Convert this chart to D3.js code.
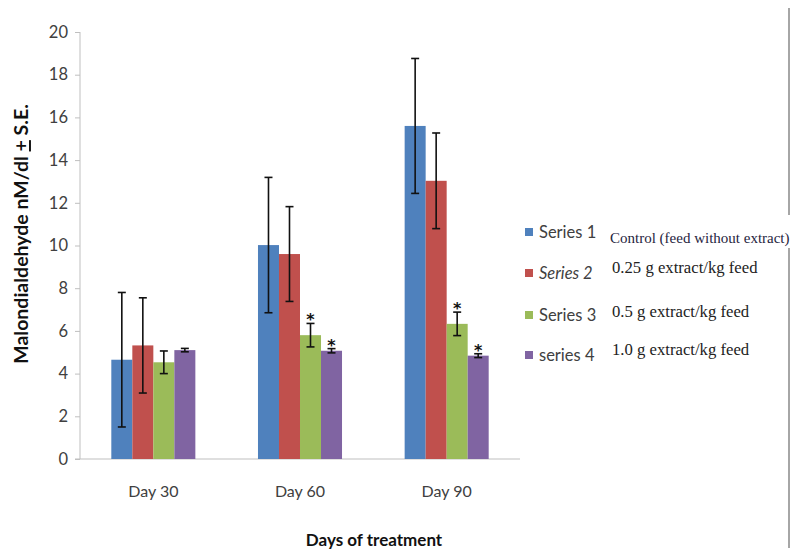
<!DOCTYPE html>
<html>
<head>
<meta charset="utf-8">
<script src="https://cdn.jsdelivr.net/npm/d3@7"></script>
<style>
  body { margin: 0; background: #fff; }
  svg { display: block; }
</style>
</head>
<body>
<svg id="chart"></svg>
<script>
// chart data
const categories = ['Day 30', 'Day 60', 'Day 90'];
const seriesNames = ['Series 1', 'Series 2', 'Series 3', 'series 4'];
const treatments = ['Control (feed without extract)', '0.25 g extract/kg feed', '0.5 g extract/kg feed', '1.0 g extract/kg feed'];
const series1 = [4.65, 10.02, 15.6];
const series2 = [5.32, 9.6, 13.03];
const series3 = [4.53, 5.8, 6.33];
const series4 = [5.1, 5.07, 4.84];
const se1 = [3.15, 3.17, 3.16];
const se2 = [2.23, 2.22, 2.24];
const se3 = [0.53, 0.55, 0.55];
const se4 = [0.08, 0.1, 0.09];
const stars3 = [false, true, true];
const stars4 = [false, true, true];
const yTicks = [0, 2, 4, 6, 8, 10, 12, 14, 16, 18, 20];

const colors = ['#4F81BD', '#C0504D', '#9BBB59', '#8064A2'];
const allValues = [series1, series2, series3, series4];
const allSE = [se1, se2, se3, se4];
const allStars = [null, null, stars3, stars4];

const width = 791, height = 550;
const plotLeft = 80, plotRight = 520, plotTop = 32, plotBottom = 459;

const svg = d3.select('#chart')
    .attr('width', width)
    .attr('height', height);

const x = d3.scaleBand()
    .domain(categories)
    .range([plotLeft, plotRight])
    .paddingInner(0.427)
    .paddingOuter(0.2135);

const xs = d3.scaleBand()
    .domain(seriesNames)
    .range([0, x.bandwidth()]);

const y = d3.scaleLinear()
    .domain([0, 20])
    .range([plotBottom, plotTop]);

// y axis
const yAxis = svg.append('g')
    .attr('transform', `translate(${plotLeft},0)`)
    .call(d3.axisLeft(y).tickValues(yTicks).tickSize(5).tickPadding(7));
yAxis.selectAll('line').attr('stroke', '#bfbfbf');
yAxis.select('.domain').attr('stroke', '#bfbfbf').attr('d', `M0,${plotTop}V${plotBottom}`);
yAxis.selectAll('text')
    .attr('font-family', 'Lato, sans-serif')
    .attr('font-size', 16.5)
    .attr('fill', '#404040');

// x axis
const xAxis = svg.append('g')
    .attr('transform', `translate(0,${plotBottom})`)
    .call(d3.axisBottom(x).tickSize(0).tickPadding(27));
xAxis.select('.domain').attr('stroke', '#bfbfbf').attr('d', `M${plotLeft - 5},0H${plotRight}`);
xAxis.selectAll('text')
    .attr('font-family', 'Lato, sans-serif')
    .attr('font-size', 16)
    .attr('fill', '#404040');

// bars
const rows = [];
categories.forEach((c, i) => {
    seriesNames.forEach((s, j) => {
        rows.push({ cat: c, name: s, k: j, v: allValues[j][i], se: allSE[j][i], star: allStars[j] ? allStars[j][i] : false });
    });
});

svg.append('g').selectAll('rect')
    .data(rows)
    .enter()
    .append('rect')
    .attr('x', d => x(d.cat) + xs(d.name))
    .attr('y', d => y(d.v))
    .attr('width', xs.bandwidth())
    .attr('height', d => y(0) - y(d.v))
    .attr('fill', d => colors[d.k]);

// error bars
const err = svg.append('g').attr('stroke', '#111').attr('stroke-width', 1.6);
rows.forEach(d => {
    const cx = x(d.cat) + xs(d.name) + xs.bandwidth() / 2;
    err.append('line').attr('x1', cx).attr('x2', cx).attr('y1', y(d.v + d.se)).attr('y2', y(d.v - d.se));
    err.append('line').attr('x1', cx - 4).attr('x2', cx + 4).attr('y1', y(d.v + d.se)).attr('y2', y(d.v + d.se));
    err.append('line').attr('x1', cx - 4).attr('x2', cx + 4).attr('y1', y(d.v - d.se)).attr('y2', y(d.v - d.se));
});

// significance stars
svg.append('g').selectAll('text')
    .data(rows.filter(d => d.star))
    .enter()
    .append('text')
    .attr('x', d => x(d.cat) + xs(d.name) + xs.bandwidth() / 2)
    .attr('y', d => y(d.v + d.se) + 2)
    .attr('text-anchor', 'middle')
    .attr('font-family', 'DejaVu Sans, sans-serif')
    .attr('font-weight', 'bold')
    .attr('font-size', 16)
    .attr('fill', '#111')
    .text('*');

// y axis title
const yTitle = svg.append('text')
    .attr('transform', 'translate(28,234) rotate(-90)')
    .attr('text-anchor', 'middle')
    .attr('font-family', 'Lato, sans-serif')
    .attr('font-weight', 'bold')
    .attr('font-size', 19.5)
    .attr('fill', '#111');
yTitle.append('tspan').text('Malondialdehyde nM/dl\u00a0');
yTitle.append('tspan').attr('text-decoration', 'underline').text('+');
yTitle.append('tspan').text('\u00a0S.E.');

// x axis title
svg.append('text')
    .attr('x', 374)
    .attr('y', 546)
    .attr('text-anchor', 'middle')
    .attr('font-family', 'Lato, sans-serif')
    .attr('font-weight', 'bold')
    .attr('font-size', 17)
    .attr('fill', '#111')
    .text('Days of treatment');

// legend
const legendY = [232, 273, 315, 355];
const legend = svg.append('g');
seriesNames.forEach((s, i) => {
    legend.append('rect')
        .attr('x', 525).attr('y', legendY[i] - 4)
        .attr('width', 8).attr('height', 8)
        .attr('fill', colors[i]);
    legend.append('text')
        .attr('x', 539).attr('y', legendY[i] + 6)
        .attr('font-family', 'Lato, sans-serif')
        .attr('font-size', 16.5)
        .attr('font-style', i === 1 ? 'italic' : 'normal')
        .attr('fill', '#404040')
        .text(s);
});

// treatment labels next to legend
const noteY = [243, 273, 317, 355];
treatments.forEach((t, i) => {
    svg.append('text')
        .attr('x', i === 0 ? 610 : 612)
        .attr('y', noteY[i])
        .attr('font-family', 'Liberation Serif, serif')
        .attr('font-size', i === 0 ? 15 : 16.7)
        .attr('fill', i === 0 ? '#1f2440' : '#222')
        .text(t);
});

// right border line with gap
svg.append('line').attr('x1', 789).attr('x2', 789).attr('y1', 8).attr('y2', 215)
    .attr('stroke', '#888').attr('stroke-width', 1.5);
svg.append('line').attr('x1', 789).attr('x2', 789).attr('y1', 248).attr('y2', 548)
    .attr('stroke', '#888').attr('stroke-width', 1.5);
</script>
</body>
</html>
